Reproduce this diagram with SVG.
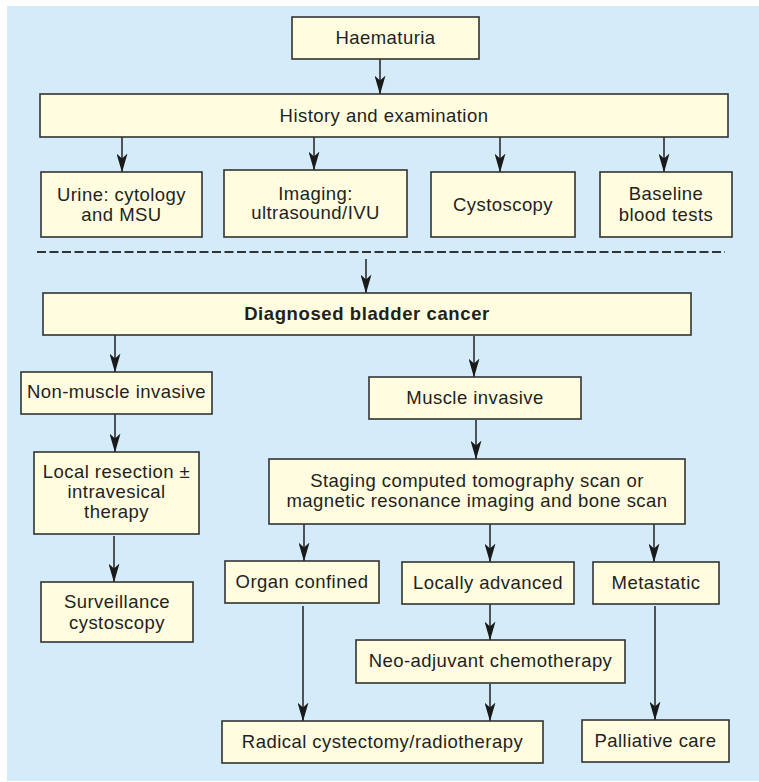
<svg xmlns="http://www.w3.org/2000/svg" width="759" height="782" viewBox="0 0 759 782">
<style>
.box{fill:#FFFCE0;stroke:#333333;stroke-width:1.6}
.t{font-family:"Liberation Sans",Arial,sans-serif;font-size:18.5px;letter-spacing:0.45px;fill:#231F20;text-anchor:middle}
.b{font-weight:bold;letter-spacing:0.6px}
.c{stroke:#231F20;stroke-width:1.5;fill:none;marker-end:url(#ah)}
.d{stroke:#333333;stroke-width:2.2;fill:none;stroke-dasharray:9 3.5}
</style>
<defs>
<marker id="ah" markerUnits="userSpaceOnUse" viewBox="0 0 19 11" refX="18.5" refY="5.5" markerWidth="19" markerHeight="11" orient="auto">
<path d="M0,0 L19,5.5 L0,11 L5,5.5 z" fill="#1a1a1a"/>
</marker>
</defs>
<rect x="7" y="6" width="752" height="775" fill="#D4ECFA"/>
<g id="connectors">
<line class="c" x1="380" y1="59" x2="380" y2="94"/>
<line class="c" x1="122" y1="137" x2="122" y2="172"/>
<line class="c" x1="314" y1="137" x2="314" y2="170"/>
<line class="c" x1="500" y1="137" x2="500" y2="172"/>
<line class="c" x1="664" y1="137" x2="664" y2="172"/>
<line class="d" x1="37" y1="252" x2="725" y2="252"/>
<line class="c" x1="366" y1="259" x2="366" y2="293"/>
<line class="c" x1="115" y1="335" x2="115" y2="372"/>
<line class="c" x1="474" y1="336" x2="474" y2="377"/>
<line class="c" x1="115" y1="414" x2="115" y2="452"/>
<line class="c" x1="476" y1="420" x2="476" y2="459"/>
<line class="c" x1="114" y1="536" x2="114" y2="582"/>
<line class="c" x1="304" y1="524" x2="304" y2="561"/>
<line class="c" x1="490" y1="524" x2="490" y2="562"/>
<line class="c" x1="654" y1="524" x2="654" y2="562"/>
<line class="c" x1="490" y1="604" x2="490" y2="640"/>
<line class="c" x1="303" y1="606" x2="303" y2="721"/>
<line class="c" x1="490" y1="684" x2="490" y2="721"/>
<line class="c" x1="655" y1="606" x2="655" y2="720"/>
</g>
<g id="n-haematuria"><rect class="box" x="292" y="17" width="187" height="42"/><text class="t" x="385.5" y="44">Haematuria</text></g>
<g id="n-history"><rect class="box" x="40" y="94" width="688" height="43"/><text class="t" x="384" y="122">History and examination</text></g>
<g id="n-urine"><rect class="box" x="41" y="172" width="161" height="65"/><text class="t" x="121.5" y="201">Urine: cytology</text><text class="t" x="121.5" y="221">and MSU</text></g>
<g id="n-imaging"><rect class="box" x="224" y="170" width="183" height="67"/><text class="t" x="315.5" y="200">Imaging:</text><text class="t" x="315.5" y="219">ultrasound/IVU</text></g>
<g id="n-cystoscopy"><rect class="box" x="431" y="172" width="144" height="65"/><text class="t" x="503" y="211">Cystoscopy</text></g>
<g id="n-baseline"><rect class="box" x="600" y="172" width="132" height="65"/><text class="t" x="666" y="200">Baseline</text><text class="t" x="666" y="221">blood tests</text></g>
<g id="n-diagnosed"><rect class="box" x="43" y="293" width="648" height="42"/><text class="t b" x="367" y="320">Diagnosed bladder cancer</text></g>
<g id="n-nonmuscle"><rect class="box" x="21" y="372" width="191" height="42"/><text class="t" x="116.5" y="398">Non-muscle invasive</text></g>
<g id="n-muscle"><rect class="box" x="369" y="377" width="212" height="42"/><text class="t" x="475" y="404">Muscle invasive</text></g>
<g id="n-local"><rect class="box" x="34" y="452" width="165" height="82"/><text class="t" x="116.5" y="478">Local resection ±</text><text class="t" x="116.5" y="498">intravesical</text><text class="t" x="116.5" y="518">therapy</text></g>
<g id="n-staging"><rect class="box" x="269" y="459" width="416" height="65"/><text class="t" x="477" y="487">Staging computed tomography scan or</text><text class="t" x="477" y="507">magnetic resonance imaging and bone scan</text></g>
<g id="n-surveillance"><rect class="box" x="41" y="582" width="152" height="60"/><text class="t" x="117" y="608">Surveillance</text><text class="t" x="117" y="629">cystoscopy</text></g>
<g id="n-organ"><rect class="box" x="225" y="561" width="154" height="42"/><text class="t" x="302" y="588">Organ confined</text></g>
<g id="n-locally"><rect class="box" x="402" y="562" width="172" height="42"/><text class="t" x="488" y="589">Locally advanced</text></g>
<g id="n-metastatic"><rect class="box" x="593" y="562" width="126" height="42"/><text class="t" x="656" y="589">Metastatic</text></g>
<g id="n-neo"><rect class="box" x="356" y="640" width="269" height="43"/><text class="t" x="490.5" y="667">Neo-adjuvant chemotherapy</text></g>
<g id="n-radical"><rect class="box" x="222" y="721" width="321" height="42"/><text class="t" x="382.5" y="748">Radical cystectomy/radiotherapy</text></g>
<g id="n-palliative"><rect class="box" x="582" y="720" width="147" height="42"/><text class="t" x="655.5" y="747">Palliative care</text></g>
</svg>
